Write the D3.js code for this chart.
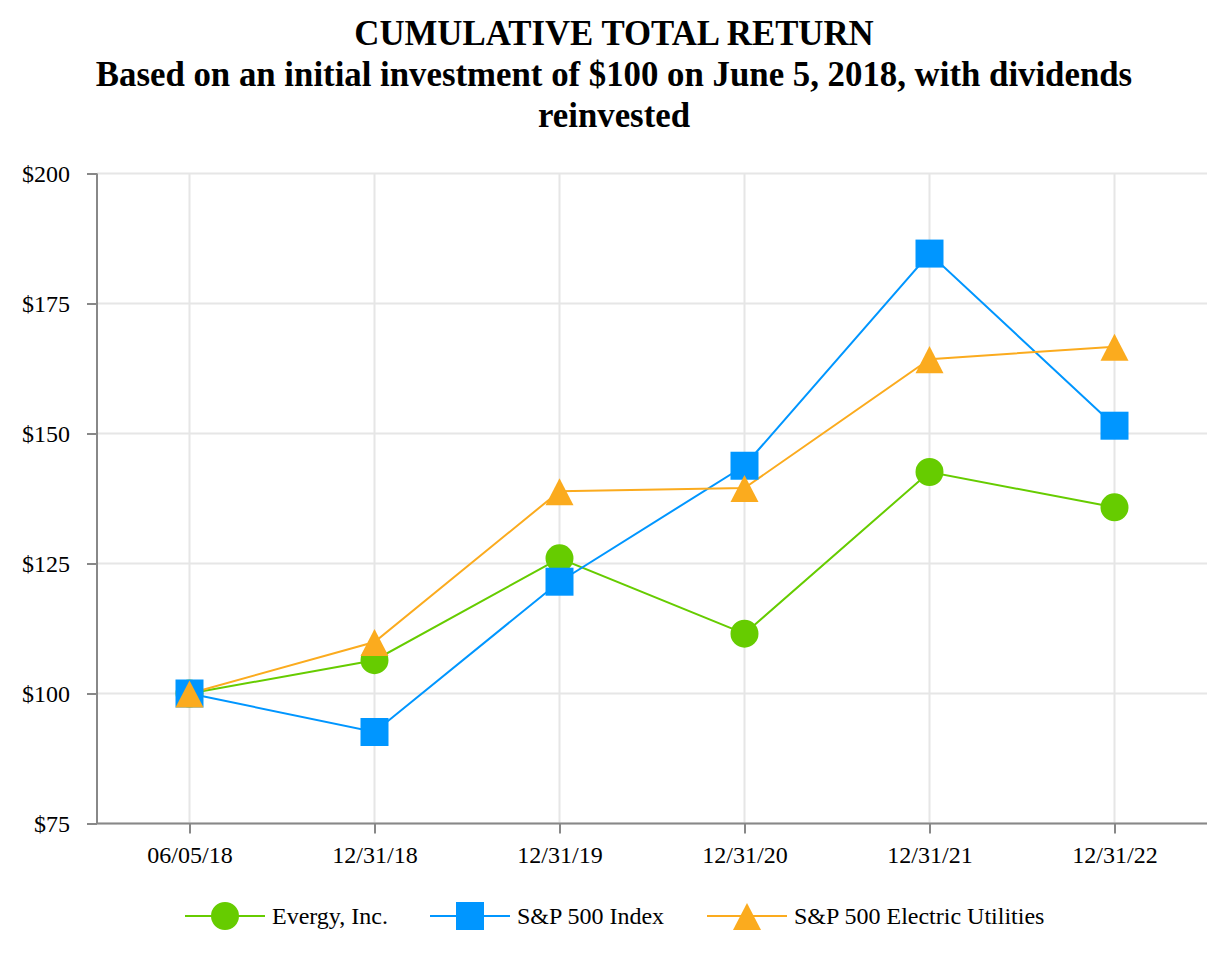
<!DOCTYPE html>
<html><head><meta charset="utf-8">
<script src="https://cdn.jsdelivr.net/npm/d3@7"></script>
<style>body{margin:0;background:#fff}svg{display:block}</style>
</head><body>
<svg id="c" width="1228" height="960"></svg>
<script>
const categories = ["06/05/18","12/31/18","12/31/19","12/31/20","12/31/21","12/31/22"];
const evergy = [100, 106.4, 126.0, 111.5, 142.6, 135.8];
const sp500 = [100, 92.6, 121.5, 143.8, 184.6, 151.5];
const utilities = [100, 109.9, 138.9, 139.5, 164.3, 166.7];
const yTicks = [75, 100, 125, 150, 175, 200];
const seriesNames = ["Evergy, Inc.", "S&P 500 Index", "S&P 500 Electric Utilities"];
const titleLines = ["CUMULATIVE TOTAL RETURN", "Based on an initial investment of $100 on June 5, 2018, with dividends", "reinvested"];

const series = [
  {name: seriesNames[0], values: evergy, color: "#66cc00", shape: "circle"},
  {name: seriesNames[1], values: sp500, color: "#0096ff", shape: "square"},
  {name: seriesNames[2], values: utilities, color: "#fbab1e", shape: "triangle"}
];

const svg = d3.select("#c");
const font = "'Liberation Serif','Times New Roman',serif";
const L = 97, R = 1207, T = 173.5, B = 823.5;

const x = d3.scalePoint().domain(categories).range([L, R]).padding(0.5);
const y = d3.scaleLinear().domain([75, 200]).range([B, T]);

// title
svg.append("g").selectAll("text").data(titleLines).join("text")
  .attr("x", 614).attr("y", (d,i) => 45 + i*41)
  .attr("text-anchor", "middle").attr("font-family", font)
  .attr("font-weight", "bold").attr("font-size", 34.8).text(d => d);

// grid
svg.append("g").selectAll("line").data(yTicks).join("line")
  .attr("x1", L).attr("x2", R).attr("y1", d => y(d)).attr("y2", d => y(d))
  .attr("stroke", "#e6e6e6").attr("stroke-width", 2);
svg.append("g").selectAll("line").data(categories).join("line")
  .attr("x1", d => x(d)).attr("x2", d => x(d)).attr("y1", T).attr("y2", B)
  .attr("stroke", "#e6e6e6").attr("stroke-width", 2);

// axes
const yAxis = svg.append("g").attr("transform", `translate(${L},0)`)
  .call(d3.axisLeft(y).tickValues(yTicks).tickFormat(d => "$" + d).tickSize(10).tickPadding(17));
const xAxis = svg.append("g").attr("transform", `translate(0,${B})`)
  .call(d3.axisBottom(x).tickSize(10).tickPadding(12));
[yAxis, xAxis].forEach(a => {
  a.select(".domain").attr("stroke", "#888").attr("stroke-width", 2);
  a.selectAll(".tick line").attr("stroke", "#888").attr("stroke-width", 2);
  a.selectAll(".tick text").attr("font-family", font).attr("font-size", 24).attr("fill", "#000");
});
xAxis.select(".domain").attr("d", `M${L},0H${R}`);
yAxis.select(".domain").attr("d", `M0,${T}V${B}`);

const tri = {draw(ctx, size) {
  const s = Math.sqrt(size) / 2;
  ctx.moveTo(0, -s * 0.93);
  ctx.lineTo(s, s);
  ctx.lineTo(-s, s);
  ctx.closePath();
}};
const sym = {circle: d3.symbolCircle, square: d3.symbolSquare, triangle: tri};
const sz = {circle: 615, square: 784, triangle: 784};

const line = d3.line().x((d,i) => x(categories[i])).y(d => y(d));
series.forEach(s => {
  svg.append("path").attr("d", line(s.values)).attr("fill", "none")
    .attr("stroke", s.color).attr("stroke-width", 2);
});
series.forEach(s => {
  svg.append("g").selectAll("path").data(s.values).join("path")
    .attr("d", d3.symbol(sym[s.shape], sz[s.shape]))
    .attr("transform", (d,i) => `translate(${x(categories[i])},${y(d)})`)
    .attr("fill", s.color);
});

// legend
const legX = [185, 430, 707];
const lg = svg.append("g").selectAll("g").data(series).join("g")
  .attr("transform", (d,i) => `translate(${legX[i]},916)`);
lg.append("line").attr("x1", 0).attr("x2", 80).attr("stroke", d => d.color).attr("stroke-width", 2);
lg.append("path").attr("d", d => d3.symbol(sym[d.shape], sz[d.shape])())
  .attr("transform", "translate(40,0)").attr("fill", d => d.color);
lg.append("text").attr("x", 87).attr("y", 8).attr("font-family", font)
  .attr("font-size", 24).text(d => d.name);
</script>
</body></html>
